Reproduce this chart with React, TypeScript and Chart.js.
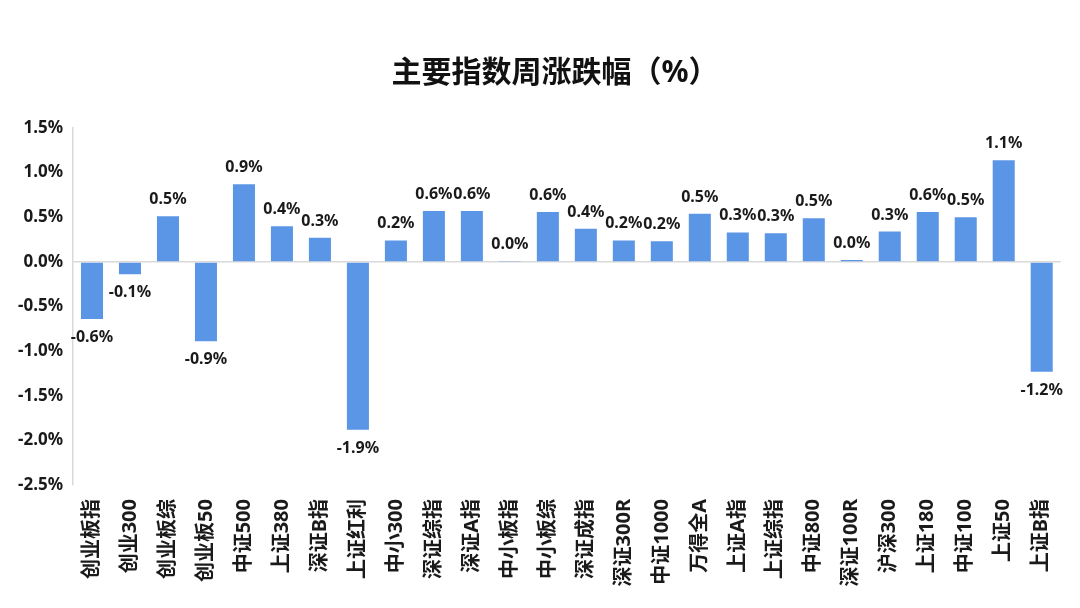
import React, { useEffect, useRef } from "react";
import { Chart, registerables } from "chart.js";

Chart.register(...registerables);

const TITLE = "主要指数周涨跌幅（%）";

const categories = [
  "创业板指", "创业300", "创业板综", "创业板50", "中证500", "上证380", "深证B指",
  "上证红利", "中小300", "深证综指", "深证A指", "中小板指", "中小板综", "深证成指",
  "深证300R", "中证1000", "万得全A", "上证A指", "上证综指", "中证800", "深证100R",
  "沪深300", "上证180", "中证100", "上证50", "上证B指",
];

const weeklyChange = [
  -0.64, -0.14, 0.51, -0.89, 0.87, 0.4, 0.27,
  -1.88, 0.24, 0.57, 0.57, 0.01, 0.56, 0.37,
  0.24, 0.23, 0.54, 0.33, 0.32, 0.49, 0.02,
  0.34, 0.56, 0.5, 1.14, -1.23,
];

const yMin = -2.5;
const yMax = 1.5;
const yStep = 0.5;

const FONT = "'Noto Sans', 'Noto Sans CJK SC', sans-serif";
const TEXT = "#1a1a1a";
const BAR = "#5b96e6";
const AXIS = "#d9d9d9";

const titlePlugin = {
  id: "centeredTitle",
  afterDraw(chart: any) {
    const ctx = chart.ctx;
    ctx.save();
    ctx.font = `bold 30px ${FONT}`;
    ctx.fillStyle = "#111";
    ctx.textAlign = "center";
    ctx.textBaseline = "middle";
    ctx.fillText(TITLE, 555, 73);
    ctx.restore();
  },
};

const valueLabels = {
  id: "valueLabels",
  afterDatasetsDraw(chart: any) {
    const ctx = chart.ctx;
    const meta = chart.getDatasetMeta(0);
    const data = chart.data.datasets[0].data as number[];
    ctx.save();
    ctx.font = `bold 16px ${FONT}`;
    ctx.fillStyle = TEXT;
    ctx.textAlign = "center";
    ctx.textBaseline = "alphabetic";
    meta.data.forEach((el: any, i: number) => {
      const v = data[i];
      const txt = v.toFixed(1) + "%";
      if (v >= 0) {
        ctx.fillText(txt, el.x, el.y - 12);
      } else {
        ctx.fillText(txt, el.x, el.y + 23);
      }
    });
    ctx.restore();
  },
};

export default function App() {
  const ref = useRef<HTMLCanvasElement>(null);

  useEffect(() => {
    if (!ref.current) return;
    const chart = new Chart(ref.current, {
      type: "bar",
      data: {
        labels: categories,
        datasets: [
          {
            data: weeklyChange,
            backgroundColor: BAR,
            categoryPercentage: 1,
            barPercentage: 0.58,
          },
        ],
      },
      options: {
        animation: false,
        responsive: false,
        maintainAspectRatio: false,
        layout: { padding: { left: 0, right: 15, top: 128, bottom: 0 } },
        plugins: {
          legend: { display: false },
          tooltip: { enabled: false },
          title: { display: false },
        },
        scales: {
          x: {
            grid: { display: false, drawTicks: false },
            border: { display: false },
            ticks: {
              autoSkip: false,
              minRotation: 90,
              maxRotation: 90,
              padding: 14,
              color: TEXT,
              font: { family: FONT, size: 20, weight: "bold" },
            },
            afterFit(scale: any) {
              scale.height = 123;
            },
          },
          y: {
            min: yMin,
            max: yMax,
            grid: {
              drawTicks: false,
              color: (c: any) => (c.tick && c.tick.value === 0 ? AXIS : "rgba(0,0,0,0)"),
              lineWidth: 1.5,
            },
            border: { display: true, color: AXIS, width: 1.5 },
            ticks: {
              stepSize: yStep,
              padding: 10,
              color: TEXT,
              font: { family: FONT, size: 17, weight: "bold" },
              callback: (v: any) => Number(v).toFixed(1) + "%",
            },
            afterFit(scale: any) {
              scale.width = 73;
            },
          },
        },
      },
      plugins: [valueLabels, titlePlugin],
    });
    return () => chart.destroy();
  }, []);

  return (
    <div style={{ position: "absolute", left: 0, top: 0, width: 1080, height: 608, background: "#fff" }}>
      <canvas ref={ref} width={1080} height={608} style={{ width: 1080, height: 608 }} />
    </div>
  );
}
